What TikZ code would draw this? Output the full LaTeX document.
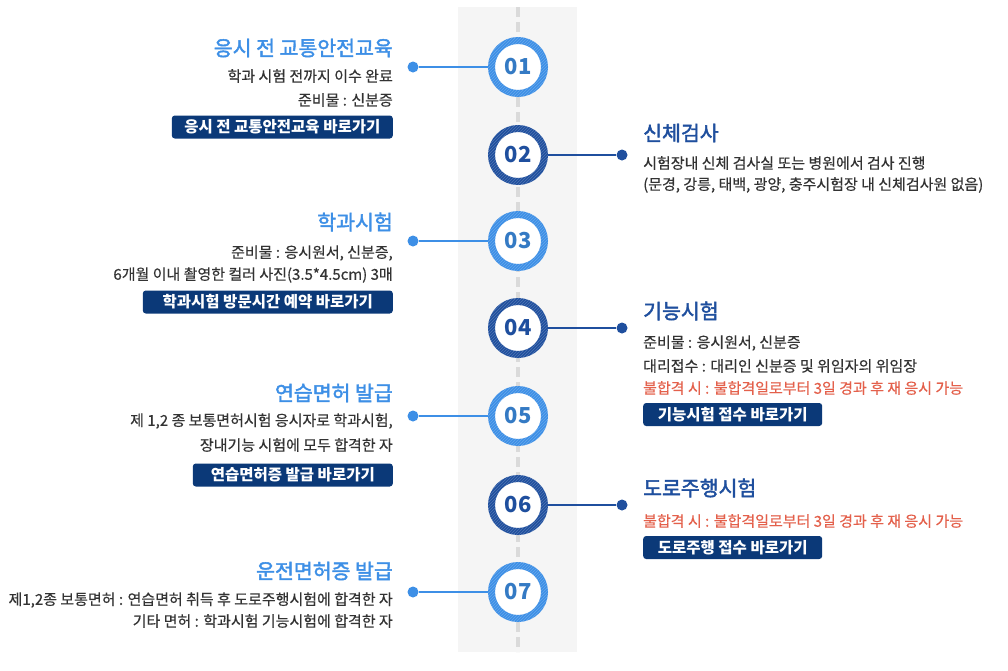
\documentclass[tikz,border=0pt]{standalone}
\usepackage{fontspec}
\usepackage{tikz}
\usetikzlibrary{patterns,positioning}
\setmainfont{Noto Sans CJK KR}
\newfontfamily\ttlfont[FakeBold=2]{Noto Sans CJK KR}
\newfontfamily\txtfont[FakeBold=0.4]{Noto Sans CJK KR}
\definecolor{stepsky}{HTML}{3D8FE6}
\definecolor{stepnavy}{HTML}{1F4F9E}
\definecolor{btnnavy}{HTML}{0B3978}
\definecolor{failred}{HTML}{E4604B}
\definecolor{bodygray}{HTML}{333333}
\definecolor{bandgray}{HTML}{F5F5F5}
\definecolor{dashgray}{HTML}{DADADA}

\begin{document}
\begin{tikzpicture}[x=1pt,y=-1pt,
ring/.style={circle,draw,line width=7pt,minimum size=53pt,fill=white,inner sep=0pt,font=\fontsize{22}{22}\selectfont\bfseries},
oddring/.style={ring,draw=stepsky,text=stepsky!85!black},
evenring/.style={ring,draw=stepnavy,text=stepnavy},
dot/.style={circle,inner sep=0pt,minimum size=11pt},
lttl/.style={anchor=east,inner sep=0pt,text=stepsky,font=\ttlfont\fontsize{20.5}{22}\selectfont},
rttl/.style={anchor=west,inner sep=0pt,text=stepnavy,font=\ttlfont\fontsize{20.5}{22}\selectfont},
ltxt/.style={anchor=east,inner sep=0pt,text=bodygray,font=\txtfont\fontsize{15}{17}\selectfont},
rtxt/.style={anchor=west,inner sep=0pt,text=bodygray,font=\txtfont\fontsize{15}{17}\selectfont},
btn/.style={fill=btnnavy,rounded corners=3pt,text=white,inner sep=0pt,minimum height=23pt,font=\fontsize{15.5}{17}\selectfont\bfseries},
lconn/.style={draw=stepsky,line width=2pt},
rconn/.style={draw=stepnavy,line width=2pt}]

\fill[white](0,0)rectangle(1008,670);
\useasboundingbox(0,0)rectangle(1008,670);
\fill[bandgray](458,7)rectangle(577,652);
\draw[dashgray,line width=4pt,dash pattern=on 10pt off 5pt](518,7)--(518,652);

\node[oddring](s1)at(518,67){01};
\node[evenring](s2)at(518,155){02};
\node[oddring](s3)at(518,241){03};
\node[evenring](s4)at(518,328){04};
\node[oddring](s5)at(518,416){05};
\node[evenring](s6)at(518,505){06};
\node[oddring](s7)at(518,592){07};
\foreach \n in {1,...,7}
  \fill[pattern=north east lines,pattern color=white,opacity=.22,even odd rule](s\n)circle[radius=30pt]circle[radius=23pt];

\foreach \n/\y in {1/67,3/241,5/416,7/592}{
  \node[dot,fill=stepsky](d\n)at(413,\y){};
  \draw[lconn](d\n)--(s\n);}
\foreach \n/\y in {2/155,4/328,6/505}{
  \node[dot,fill=stepnavy](d\n)at(622,\y){};
  \draw[rconn](s\n)--(d\n);}

\node[lttl](t1)at(393,48){응시 전 교통안전교육};
\node[ltxt](a1)at(393,76){학과 시험 전까지 이수 완료};
\node[ltxt](b1)at(393,100){준비물 : 신분증};
\node[btn,minimum width=221pt,anchor=east](k1)at(393,127){응시 전 교통안전교육 바로가기};

\node[rttl](t2)at(643,133){신체검사};
\node[rtxt](a2)at(643,163){시험장내 신체 검사실 또는 병원에서 검사 진행};
\node[rtxt](b2)at(643,185){(문경, 강릉, 태백, 광양, 충주시험장 내 신체검사원 없음)};

\node[lttl](t3)at(393,222){학과시험};
\node[ltxt](a3)at(393,253){준비물 : 응시원서, 신분증,};
\node[ltxt](b3)at(393,275){6개월 이내 촬영한 컬러 사진(3.5*4.5cm) 3매};
\node[btn,minimum width=250pt,anchor=east](k3)at(393,302){학과시험 방문시간 예약 바로가기};

\node[rttl](t4)at(643,311){기능시험};
\node[rtxt](a4)at(643,343){준비물 : 응시원서, 신분증};
\node[rtxt](b4)at(643,366){대리접수 : 대리인 신분증 및 위임자의 위임장};
\node[rtxt,text=failred](c4)at(643,388){불합격 시 : 불합격일로부터 3일 경과 후 재 응시 가능};
\node[btn,minimum width=179pt,anchor=west](k4)at(643,414.5){기능시험 접수 바로가기};

\node[lttl](t5)at(393,393){연습면허 발급};
\node[ltxt](a5)at(393,421){제 1,2 종 보통면허시험 응시자로 학과시험,};
\node[ltxt](b5)at(393,445){장내기능 시험에 모두 합격한 자};
\node[btn,minimum width=200pt,anchor=east](k5)at(393,475){연습면허증 발급 바로가기};

\node[rttl](t6)at(643,488){도로주행시험};
\node[rtxt,text=failred](a6)at(643,521){불합격 시 : 불합격일로부터 3일 경과 후 재 응시 가능};
\node[btn,minimum width=179pt,anchor=west](k6)at(643,547.5){도로주행 접수 바로가기};

\node[lttl](t7)at(393,571){운전면허증 발급};
\node[ltxt](a7)at(393,600){제1,2종 보통면허 : 연습면허 취득 후 도로주행시험에 합격한 자};
\node[ltxt](b7)at(393,621){기타 면허 : 학과시험 기능시험에 합격한 자};
\end{tikzpicture}
\end{document}
